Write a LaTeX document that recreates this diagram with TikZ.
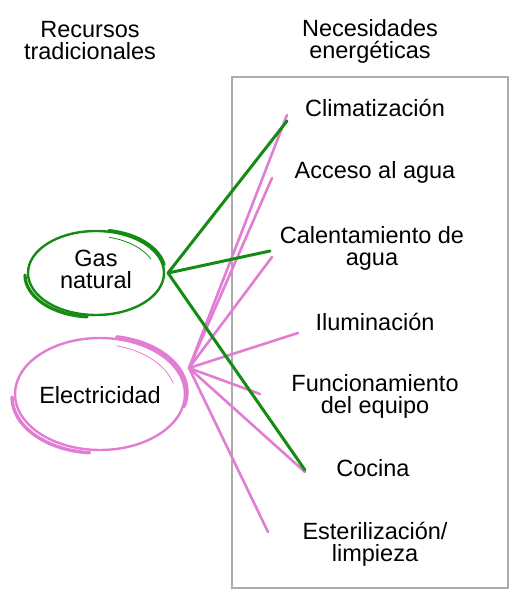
\documentclass[tikz,border=0pt]{standalone}
\usepackage{fontspec}
\setmainfont{Liberation Sans}
\usepackage{xcolor}
\usepackage{tikz}
\definecolor{gasgreen}{RGB}{20,140,20}
\definecolor{elecpink}{RGB}{226,125,212}
\definecolor{boxgray}{RGB}{172,172,172}

\begin{document}
\begin{tikzpicture}[x=1pt, y=-1pt,
    every node/.style={font=\fontsize{23.5}{22}\selectfont, align=center, inner sep=0pt},
    gasline/.style={draw=gasgreen, line width=3pt, line cap=round},
    elecline/.style={draw=elecpink, line width=2.6pt, line cap=round}]
            \useasboundingbox (0,0) rectangle (523,601);

            % headers
            \node (recursos) at (90,41) {Recursos\\tradicionales};
            \node (necesidades) at (370,41) {Necesidades\\energ\'eticas};
            \draw[boxgray, line width=2.5pt] (232,77) rectangle (508,588);

            % needs
            \node (clima) at (375,108) {Climatizaci\'on};
            \node (acceso) at (375,172) {Acceso al agua};
            \node (calent) at (372,248) {Calentamiento de\\agua};
            \node (ilum) at (375,322) {Iluminaci\'on};
            \node (func) at (375,396) {Funcionamiento\\del equipo};
            \node (cocina) at (373,468) {Cocina};
            \node (esteril) at (375,544) {Esterilizaci\'on/\\limpieza};

            % resources
            \coordinate (gasc) at (96,273);
            \coordinate (elecc) at (100,394);
            \node (gas) at (96,269) {Gas\\natural};
            \node (elec) at (100,395) {Electricidad};

            \draw[gasline, line width=2.4pt] (gasc) ellipse [x radius=68, y radius=42];
            \draw[gasline, line width=3.2pt] ([shift={(-3,2)}]gasc) ++(180:68 and 42) arc [start angle=180, end angle=95, x radius=68, y radius=42];
            \draw[gasline, line width=3.4pt] ([shift={(1,-1)}]gasc) ++(280:68 and 42) arc [start angle=280, end angle=350, x radius=68, y radius=42];
            \draw[gasline, line width=0.8pt] ([shift={(-3,3)}]gasc) ++(285:64 and 40) arc [start angle=285, end angle=335, x radius=64, y radius=40];

            \draw[elecline, line width=2.4pt] (elecc) ellipse [x radius=85, y radius=56];
            \draw[elecline, line width=3.4pt] ([shift={(-3,3)}]elecc) ++(180:85 and 56) arc [start angle=180, end angle=95, x radius=85, y radius=56];
            \draw[elecline, line width=3.4pt] ([shift={(2,-2)}]elecc) ++(280:85 and 56) arc [start angle=280, end angle=375, x radius=85, y radius=56];
            \draw[elecline, line width=0.8pt] ([shift={(-4,3)}]elecc) ++(285:80 and 53) arc [start angle=285, end angle=345, x radius=80, y radius=53];

            % hubs and line ends
            \coordinate (gashub) at (168,273);
            \coordinate (elechub) at (189,368);
            \coordinate (climaG) at (287,121);
            \coordinate (calentG) at (270,251);
            \coordinate (cocinaG) at (305,470);
            \coordinate (climaE) at (287,115);
            \coordinate (accesoE) at (272,178);
            \coordinate (calentE) at (272,257);
            \coordinate (ilumE) at (298,333);
            \coordinate (funcE) at (260,394);
            \coordinate (cocinaE) at (305,472);
            \coordinate (esterilE) at (268,532);

            \foreach \e in {climaE, accesoE, calentE, ilumE, funcE, cocinaE, esterilE}
                \draw[elecline] (elechub) -- (\e);
            \foreach \g in {climaG, calentG, cocinaG}
                \draw[gasline] (gashub) -- (\g);

        \end{tikzpicture}
\end{document}
